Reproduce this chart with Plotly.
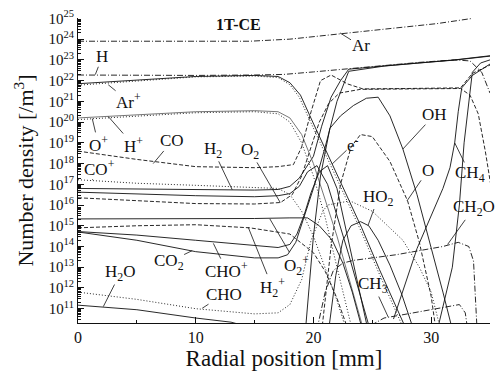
import numpy as np
import plotly.graph_objects as go

# ---- data: radial position [mm] and log10(number density [/m^3]) ----
ar_x = [0, 5, 10, 14.6, 18, 21.4, 24.5, 27.4, 30.5, 33.5]
ar_v = [23.9, 23.9, 23.9, 23.9, 24.0, 24.2, 24.4, 24.55, 24.75, 25.0]

h_x = [0, 5, 10, 15, 17.5, 20, 23, 26, 29, 32, 33.3, 34.3, 35]
h_v = [22.27, 22.25, 22.25, 22.27, 22.3, 22.42, 22.58, 22.73, 22.88, 23.0, 22.95, 22.4, 21.4]

h2_x = [0, 5, 10, 15, 17, 18, 18.8, 19.4, 20, 20.7, 21.5, 22.3, 23, 26, 29, 32, 35]
h2_v = [16.8, 16.78, 16.75, 16.72, 16.75, 16.9, 17.3, 17.8, 18.35, 19.8, 21.2, 22.0, 22.55, 22.71, 22.86, 23.0, 23.2]

arp_x = [0, 5, 10, 15, 17, 18, 18.8, 19.6, 20.5, 21.6, 22.5, 24, 25.5, 27, 28]
arp_v = [21.78, 21.98, 22.18, 22.22, 22.15, 21.8, 21.2, 20.2, 19.1, 17.8, 16.7, 14.8, 12.8, 10.9, 9.6]

e_x = [0, 5, 10, 15, 17, 18, 18.9, 19.7, 20.6, 21.6, 22.6, 24.1, 25.6, 27.2, 28.2]
e_v = [21.85, 22.03, 22.2, 22.25, 22.2, 21.9, 21.3, 20.3, 19.2, 18.0, 16.8, 14.9, 12.9, 10.9, 9.6]

hp_x = [0, 5, 10, 15, 17, 18, 19, 20, 21, 22, 23, 24, 24.5]
hp_v = [20.2, 20.35, 20.5, 20.55, 20.5, 20.2, 19.4, 18.0, 16.3, 14.5, 12.5, 10.5, 9.5]

op_x = [0, 5, 10, 15, 17, 18, 19, 20, 21, 22, 23, 23.5]
op_v = [20.12, 20.3, 20.45, 20.5, 20.4, 20.0, 19.0, 17.4, 15.4, 13.0, 10.6, 9.5]

co_x = [0, 5, 10, 15, 17, 18.3, 19, 19.8, 20.6, 21.5, 22.9, 24.2, 28, 32.5, 33.5, 35]
co_v = [18.6, 18.2, 17.85, 17.8, 17.85, 17.95, 18.8, 20.5, 22.0, 22.27, 21.84, 21.6, 21.62, 21.65, 22.35, 22.75]

cop_x = [0, 5, 10, 15, 17, 18, 19, 20, 21, 22, 23]
cop_v = [17.22, 17.05, 16.95, 16.85, 16.8, 16.5, 15.7, 14.5, 13.0, 11.4, 9.6]

x1_x = [0, 5, 10, 15, 17, 18, 18.8, 19.5, 20.3, 21.2, 22, 23, 24, 25]
x1_v = [16.62, 16.52, 16.45, 16.4, 16.45, 16.55, 16.9, 17.6, 17.9, 17.0, 15.5, 13.6, 11.6, 9.6]

o2_x = [0, 5, 10, 15, 17.2, 18.2, 19, 19.8, 20.5, 21.3, 22.2, 24, 28, 32.5, 33.3, 34, 34.6, 35.2]
o2_v = [16.35, 16.2, 16.07, 16.05, 16.12, 16.5, 17.4, 18.8, 20.0, 20.9, 21.4, 21.58, 21.6, 21.62, 21.3, 20.4, 18.6, 16.5]

h2p_x = [0, 5, 10, 14.6, 18, 20, 21, 22, 23]
h2p_v = [14.9, 15.0, 15.05, 14.9, 14.6, 13.7, 12.8, 11.5, 9.9]

o2p_x = [0, 5, 10, 15, 18, 19.5, 20.5, 21.6, 22.5, 23.3, 24.2]
o2p_v = [15.33, 15.33, 15.33, 15.35, 15.38, 15.38, 15.0, 14.3, 13.2, 11.8, 9.9]

chop_x = [0, 5, 10, 15, 17, 18, 18.6, 19.2, 19.8, 20.5, 21.2, 22, 23, 24, 24.7]
chop_v = [14.72, 14.55, 14.3, 14.05, 13.95, 14.1, 14.6, 15.5, 16.6, 17.6, 17.9, 16.8, 14.2, 11.6, 9.8]

co2_x = [0, 5, 10, 15, 17, 17.8, 18.5, 19.2, 20, 21, 22, 23, 26, 29, 32, 35]
co2_v = [14.7, 14.3, 13.75, 13.45, 13.45, 13.6, 14.2, 15.4, 16.8, 18.8, 21.0, 22.45, 22.7, 22.85, 22.99, 23.18]

cho_x = [0, 5, 10, 15, 17, 18, 19, 19.8, 20.8, 21.2, 23.1, 25, 27.6, 29, 30, 30.8]
cho_v = [11.8, 11.45, 11.0, 10.75, 10.8, 11.2, 12.4, 14.3, 15.7, 16.0, 16.2, 15.7, 14.3, 13.0, 11.8, 10.0]

h2o_x = [0, 5, 10, 13, 16, 30.5, 31.8, 32.4, 32.8, 33.5, 34.2, 35]
h2o_v = [11.17, 10.95, 10.55, 10.35, 9.9, 9.9, 13.0, 16.0, 19.0, 22.4, 22.85, 23.0]

oh_x = [19.3, 20.0, 20.6, 21.4, 22.3, 23.4, 24.5, 25.5, 26.5, 27.6, 28.8, 30.0, 31.0, 31.8]
oh_v = [9.8, 14.5, 17.4, 19.7, 20.3, 20.8, 21.15, 21.2, 20.3, 18.7, 16.5, 14.0, 11.8, 10.0]

o_x = [20.7, 21.5, 22.3, 23.2, 24.0, 25.0, 26.5, 28.0, 29.0, 30.0, 30.4]
o_v = [9.9, 14.0, 17.0, 18.8, 19.4, 19.3, 18.1, 16.2, 14.2, 11.6, 10.0]

ho2_x = [21.3, 21.9, 22.5, 23.2, 24.0, 24.7, 25.5, 26.5, 27.5, 28.5]
ho2_v = [10.0, 12.6, 14.3, 15.0, 15.2, 15.0, 14.3, 13.1, 11.7, 10.0]

ch4_x = [26.8, 28.8, 31.0, 31.6, 32.0, 32.3, 32.6, 33.5, 35]
ch4_v = [10.5, 13.9, 16.8, 17.8, 19.0, 20.5, 21.65, 22.25, 22.8]

ch2o_x = [20.3, 21.0, 21.7, 22.5, 23.4, 25, 27, 29, 31, 32.3, 33.2, 33.6, 33.9]
ch2o_v = [10.0, 11.8, 12.85, 13.2, 13.33, 13.45, 13.6, 13.8, 14.0, 14.2, 14.0, 13.3, 10.0]

ch3_x = [24.9, 26, 28, 30, 32.4, 32.9, 33.1]
ch3_v = [10.2, 10.55, 10.75, 10.95, 11.2, 10.8, 10.0]

y_exponents = list(range(11, 26))
x_ticks = [0, 10, 20, 30]

# ---- styles ----
DASH = "4px,2px"
DOT = "1px,2px"
DDOT = "6px,2px,1px,2px"
series = [
    (ar_x, ar_v, DDOT, "#111"),
    (h_x, h_v, DDOT, "#111"),
    (h2_x, h2_v, "solid", "#111"),
    (arp_x, arp_v, DOT, "#111"),
    (e_x, e_v, "solid", "#111"),
    (hp_x, hp_v, "solid", "#666"),
    (op_x, op_v, DOT, "#111"),
    (co_x, co_v, DASH, "#111"),
    (cop_x, cop_v, DOT, "#111"),
    (x1_x, x1_v, "solid", "#111"),
    (o2_x, o2_v, DASH, "#111"),
    (h2p_x, h2p_v, DASH, "#111"),
    (o2p_x, o2p_v, "solid", "#111"),
    (chop_x, chop_v, "solid", "#111"),
    (co2_x, co2_v, "solid", "#111"),
    (cho_x, cho_v, DOT, "#111"),
    (h2o_x, h2o_v, "solid", "#111"),
    (oh_x, oh_v, "solid", "#111"),
    (o_x, o_v, DASH, "#111"),
    (ho2_x, ho2_v, "solid", "#111"),
    (ch4_x, ch4_v, "solid", "#111"),
    (ch2o_x, ch2o_v, DDOT, "#111"),
    (ch3_x, ch3_v, DDOT, "#111"),
]

fig = go.Figure()
for xs, vs, dash, col in series:
    fig.add_trace(go.Scatter(
        x=xs, y=[10.0 ** v for v in vs], mode="lines",
        line=dict(color=col, width=0.9, dash=dash),
        showlegend=False, hoverinfo="skip"))

# labels: (text, label x, label log-y, pointer x, pointer log-y)
labels = [
    ("Ar", 24.0, 23.68, 22.26, 24.3),
    ("H", 2.06, 23.15, 1.47, 22.29),
    ("Ar<sup>+</sup>", 4.3, 21.0, 2.57, 21.8),
    ("O<sup>+</sup>", 1.72, 18.95, 1.21, 20.17),
    ("H<sup>+</sup>", 4.69, 18.9, 2.57, 20.27),
    ("CO", 8.0, 19.09, 6.39, 18.0),
    ("CO<sup>+</sup>", 1.85, 17.8, 1.21, 17.2),
    ("H<sub>2</sub>", 11.49, 18.66, 13.1, 16.74),
    ("O<sub>2</sub>", 14.64, 18.61, 17.18, 16.12),
    ("e<sup>-</sup>", 23.37, 18.94, 21.59, 17.98),
    ("OH", 30.3, 20.36, 27.6, 18.7),
    ("O", 29.7, 17.65, 27.95, 16.2),
    ("CH<sub>4</sub>", 33.3, 17.5, 32.0, 19.0),
    ("HO<sub>2</sub>", 25.5, 16.36, 24.64, 15.02),
    ("CH<sub>2</sub>O", 33.6, 15.84, 31.4, 14.1),
    ("CH<sub>3</sub>", 25.1, 12.14, 26.35, 10.6),
    ("O<sub>2</sub><sup>+</sup>", 18.6, 13.1, 16.3, 15.33),
    ("H<sub>2</sub><sup>+</sup>", 16.5, 12.04, 14.46, 14.93),
    ("CHO<sup>+</sup>", 12.6, 12.86, 11.5, 14.15),
    ("CHO", 12.4, 11.7, 10.55, 11.02),
    ("CO<sub>2</sub>", 7.7, 13.25, 9.7, 13.8),
    ("H<sub>2</sub>O", 3.6, 12.72, 2.15, 11.1),
]
for text, lx, ly, px, py in labels:
    fig.add_annotation(
        x=px, y=py, ax=lx, ay=ly, xref="x", yref="y", axref="x", ayref="y",
        text=text, showarrow=True, arrowhead=0, arrowwidth=0.8,
        arrowcolor="#111", standoff=0, borderpad=0,
        font=dict(family="Liberation Serif", size=17, color="#111"))

fig.add_annotation(x=13.6, y=24.72, xref="x", yref="y", text="<b>1T-CE</b>",
                   showarrow=False,
                   font=dict(family="Liberation Serif", size=16, color="#111"))

minor_vals = [k * 10.0 ** e for e in range(10, 25) for k in range(2, 10)]

fig.update_layout(
    width=498, height=376,
    margin=dict(l=78, r=8, t=16, b=53),
    paper_bgcolor="white", plot_bgcolor="white",
    font=dict(family="Liberation Serif", color="#111"),
    xaxis=dict(
        range=[0, 35], tickvals=x_ticks, ticks="inside", ticklen=6,
        tickwidth=1, tickcolor="#111", showgrid=False, zeroline=False,
        showline=True, linecolor="#111", linewidth=1.2,
        tickfont=dict(size=16),
        minor=dict(tickvals=[5, 15, 25, 35], ticks="inside", ticklen=3,
                   tickcolor="#111", showgrid=False),
        title=dict(text="Radial position [mm]", font=dict(size=23), standoff=1),
    ),
    yaxis=dict(
        type="log", range=[10.31, 25.02],
        tickvals=[10.0 ** e for e in y_exponents],
        ticktext=["10<sup>%d</sup>" % e for e in y_exponents],
        ticks="inside", ticklen=6, tickwidth=1, tickcolor="#111",
        showgrid=False, zeroline=False, showline=True, linecolor="#111",
        linewidth=1.2, tickfont=dict(size=15),
        minor=dict(tickvals=minor_vals, ticks="inside", ticklen=3,
                   tickcolor="#111", showgrid=False),
        title=dict(text="Number density [/m<sup>3</sup>]", font=dict(size=22),
                   standoff=8),
    ),
)

fig.write_html("out.html")
